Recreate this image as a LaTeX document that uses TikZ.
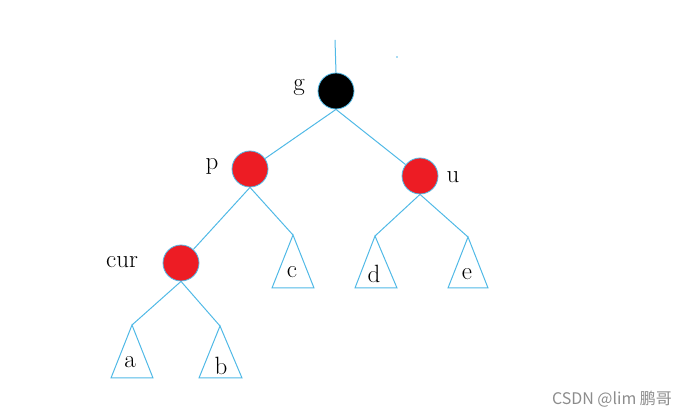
\documentclass[tikz,border=0pt]{standalone}
\usepackage{fontspec}
\newfontfamily\cjk{Noto Sans CJK SC}
\definecolor{treeblue}{RGB}{80,185,230}
\definecolor{nodered}{RGB}{237,28,36}
\begin{document}
\begin{tikzpicture}[x=1pt, y=1pt]
        \tikzstyle{rb} = [circle, draw=treeblue, line width=0.8pt, minimum size=36pt, inner sep=0pt]
        \tikzstyle{edge} = [draw=treeblue, line width=1pt]
        \tikzstyle{lbl} = [font=\fontsize{25}{30}\selectfont, inner sep=0pt]
        \useasboundingbox (0,0) rectangle (685,419);
        % nodes of the tree
        \node [rb, fill=black] (g) at (336,328) {};
        \node [rb, fill=nodered] (p) at (250,250) {};
        \node [rb, fill=nodered] (u) at (420,243) {};
        \node [rb, fill=nodered] (cur) at (181,156) {};
        \node [lbl] (gl) at (299,332) {g};
        \node [lbl] (pl) at (212,253) {p};
        \node [lbl] (ul) at (453,242) {u};
        \node [lbl] (curl) at (122,157) {cur};
        % subtrees
        \coordinate (ta) at (132,94);
        \coordinate (tb) at (220,93);
        \coordinate (tc) at (293,184);
        \coordinate (td) at (375,183);
        \coordinate (te) at (468,182);
        \draw [edge] (ta) -- ++(-21,-53) -- ++(42,0) -- cycle;
        \draw [edge] (tb) -- ++(-21,-52) -- ++(43,0) -- cycle;
        \draw [edge] (tc) -- ++(-21,-53) -- ++(42,0) -- cycle;
        \draw [edge] (td) -- ++(-20,-52) -- ++(42,0) -- cycle;
        \draw [edge] (te) -- ++(-20,-51) -- ++(40,0) -- cycle;
        \node [lbl] (la) at (130,57) {a};
        \node [lbl] (lb) at (221,53) {b};
        \node [lbl] (lc) at (292,147) {c};
        \node [lbl] (ld) at (374,145) {d};
        \node [lbl] (le) at (467,145) {e};
        % connectors
        \coordinate (top) at (335,379);
        \draw [edge] (top) -- (g.north);
        \draw [edge] (g.south) -- (p); \draw [edge] (g.south) -- (u);
        \draw [edge] (p.south) -- (cur); \draw [edge] (p.south) -- (tc);
        \draw [edge] (u.south) -- (td); \draw [edge] (u.south) -- (te);
        \draw [edge] (cur.south) -- (ta); \draw [edge] (cur.south) -- (tb);
        \fill [treeblue] (397,362) circle (0.9);
        \node [font=\cjk\fontsize{16}{18}\selectfont, text=black!45] (mark) at (612,20) {CSDN @lim 鹏哥};
\end{tikzpicture}
\end{document}
